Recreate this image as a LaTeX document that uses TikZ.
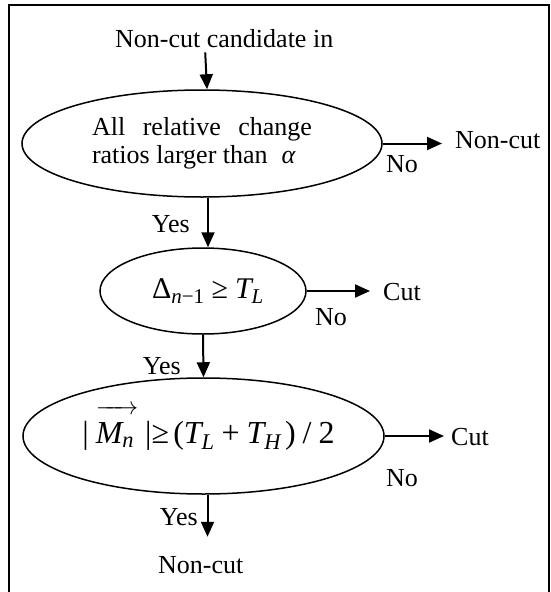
\documentclass[tikz,border=0pt]{standalone}
\usepackage{fontspec}
\usepackage{amsmath}
\setmainfont{Liberation Serif}
\usetikzlibrary{arrows.meta,shapes.geometric}
\begin{document}
\begin{tikzpicture}[x=1pt,y=-1pt,
  txt/.style={font=\fontsize{26}{27}\selectfont, inner sep=0pt},
  dec/.style={draw, ellipse, line width=1.5pt, inner sep=0pt, align=center},
  arr/.style={line width=2pt, -{Triangle[length=15pt,width=13pt]}},
  frame/.style={line width=2pt}]
\useasboundingbox (0,0) rectangle (550,592);
\draw[frame] (9,600) -- (9,5) -- (548.5,5) -- (548.5,600);

% entry
\node[txt, anchor=base west] (in) at (115,47) {Non-cut candidate in};

% decision 1
\node[dec, minimum width=360pt, minimum height=107pt, font=\fontsize{26}{28}\selectfont] (e1) at (202,143.5)
  {\makebox[220pt][s]{All relative change}\\\makebox[220pt][l]{ratios larger than\hspace{14pt}\textit{α}}};
\node[txt, anchor=base west] (nc1) at (455,148) {Non-cut};
\node[txt, anchor=base west] (no1) at (386,172) {No};

% decision 2
\node[dec, minimum width=206pt, minimum height=86pt, font=\fontsize{30}{32}\selectfont] (e2) at (203,291)
  {\makebox[120pt]{\hspace*{10pt}$\text{Δ}_{\textit{n}\text{−1}}\;\text{≥}\;\textit{T}_{\textit{L}}$}};
\node[txt, anchor=base east] (yes1) at (190,232) {Yes};
\node[txt, anchor=base west] (cut1) at (383,300) {Cut};
\node[txt, anchor=base west] (no2) at (315,325) {No};

% decision 3
\node[dec, minimum width=361pt, minimum height=116pt, font=\fontsize{32}{34}\selectfont] (e3) at (203.5,436)
  {\makebox[200pt]{\hspace*{10pt}$\text{|}\;\smash{\overrightarrow{\rule{0pt}{29pt}\textit{M}_{\textit{n}}\,}}\;\text{|≥}\,\text{(}\textit{T}_{\textit{L}}\;\text{+}\;\textit{T}_{\textit{H}}\,\text{)}\;\text{/}\;\text{2}$}};
\node[txt, anchor=base east] (yes2) at (181,374) {Yes};
\node[txt, anchor=base west] (cut2) at (451,445) {Cut};
\node[txt, anchor=base west] (no3) at (386,486) {No};

% exit
\node[txt, anchor=base east] (yes3) at (198,525) {Yes};
\node[txt, anchor=base west] (out) at (158,573) {Non-cut};

% connectors
\draw[arr] ([xshift=-19pt,yshift=-5pt]in.south) -- ([xshift=5pt]e1.north);
\draw[arr, shorten >=13pt] (e1.east) -- (e1.east -| nc1.west);
\draw[arr] ([xshift=6pt]e1.south) -- ([xshift=5pt]e2.north);
\draw[arr, shorten >=13pt] (e2.east) -- (e2.east -| cut1.west);
\draw[arr] (e2.south) -- (e3.north);
\draw[arr, shorten >=7pt] (e3.east) -- (e3.east -| cut2.west);
\draw[arr, shorten >=19pt] ([xshift=4pt]e3.south) -- ([xshift=4pt]e3.south |- out.north);
\end{tikzpicture}
\end{document}
